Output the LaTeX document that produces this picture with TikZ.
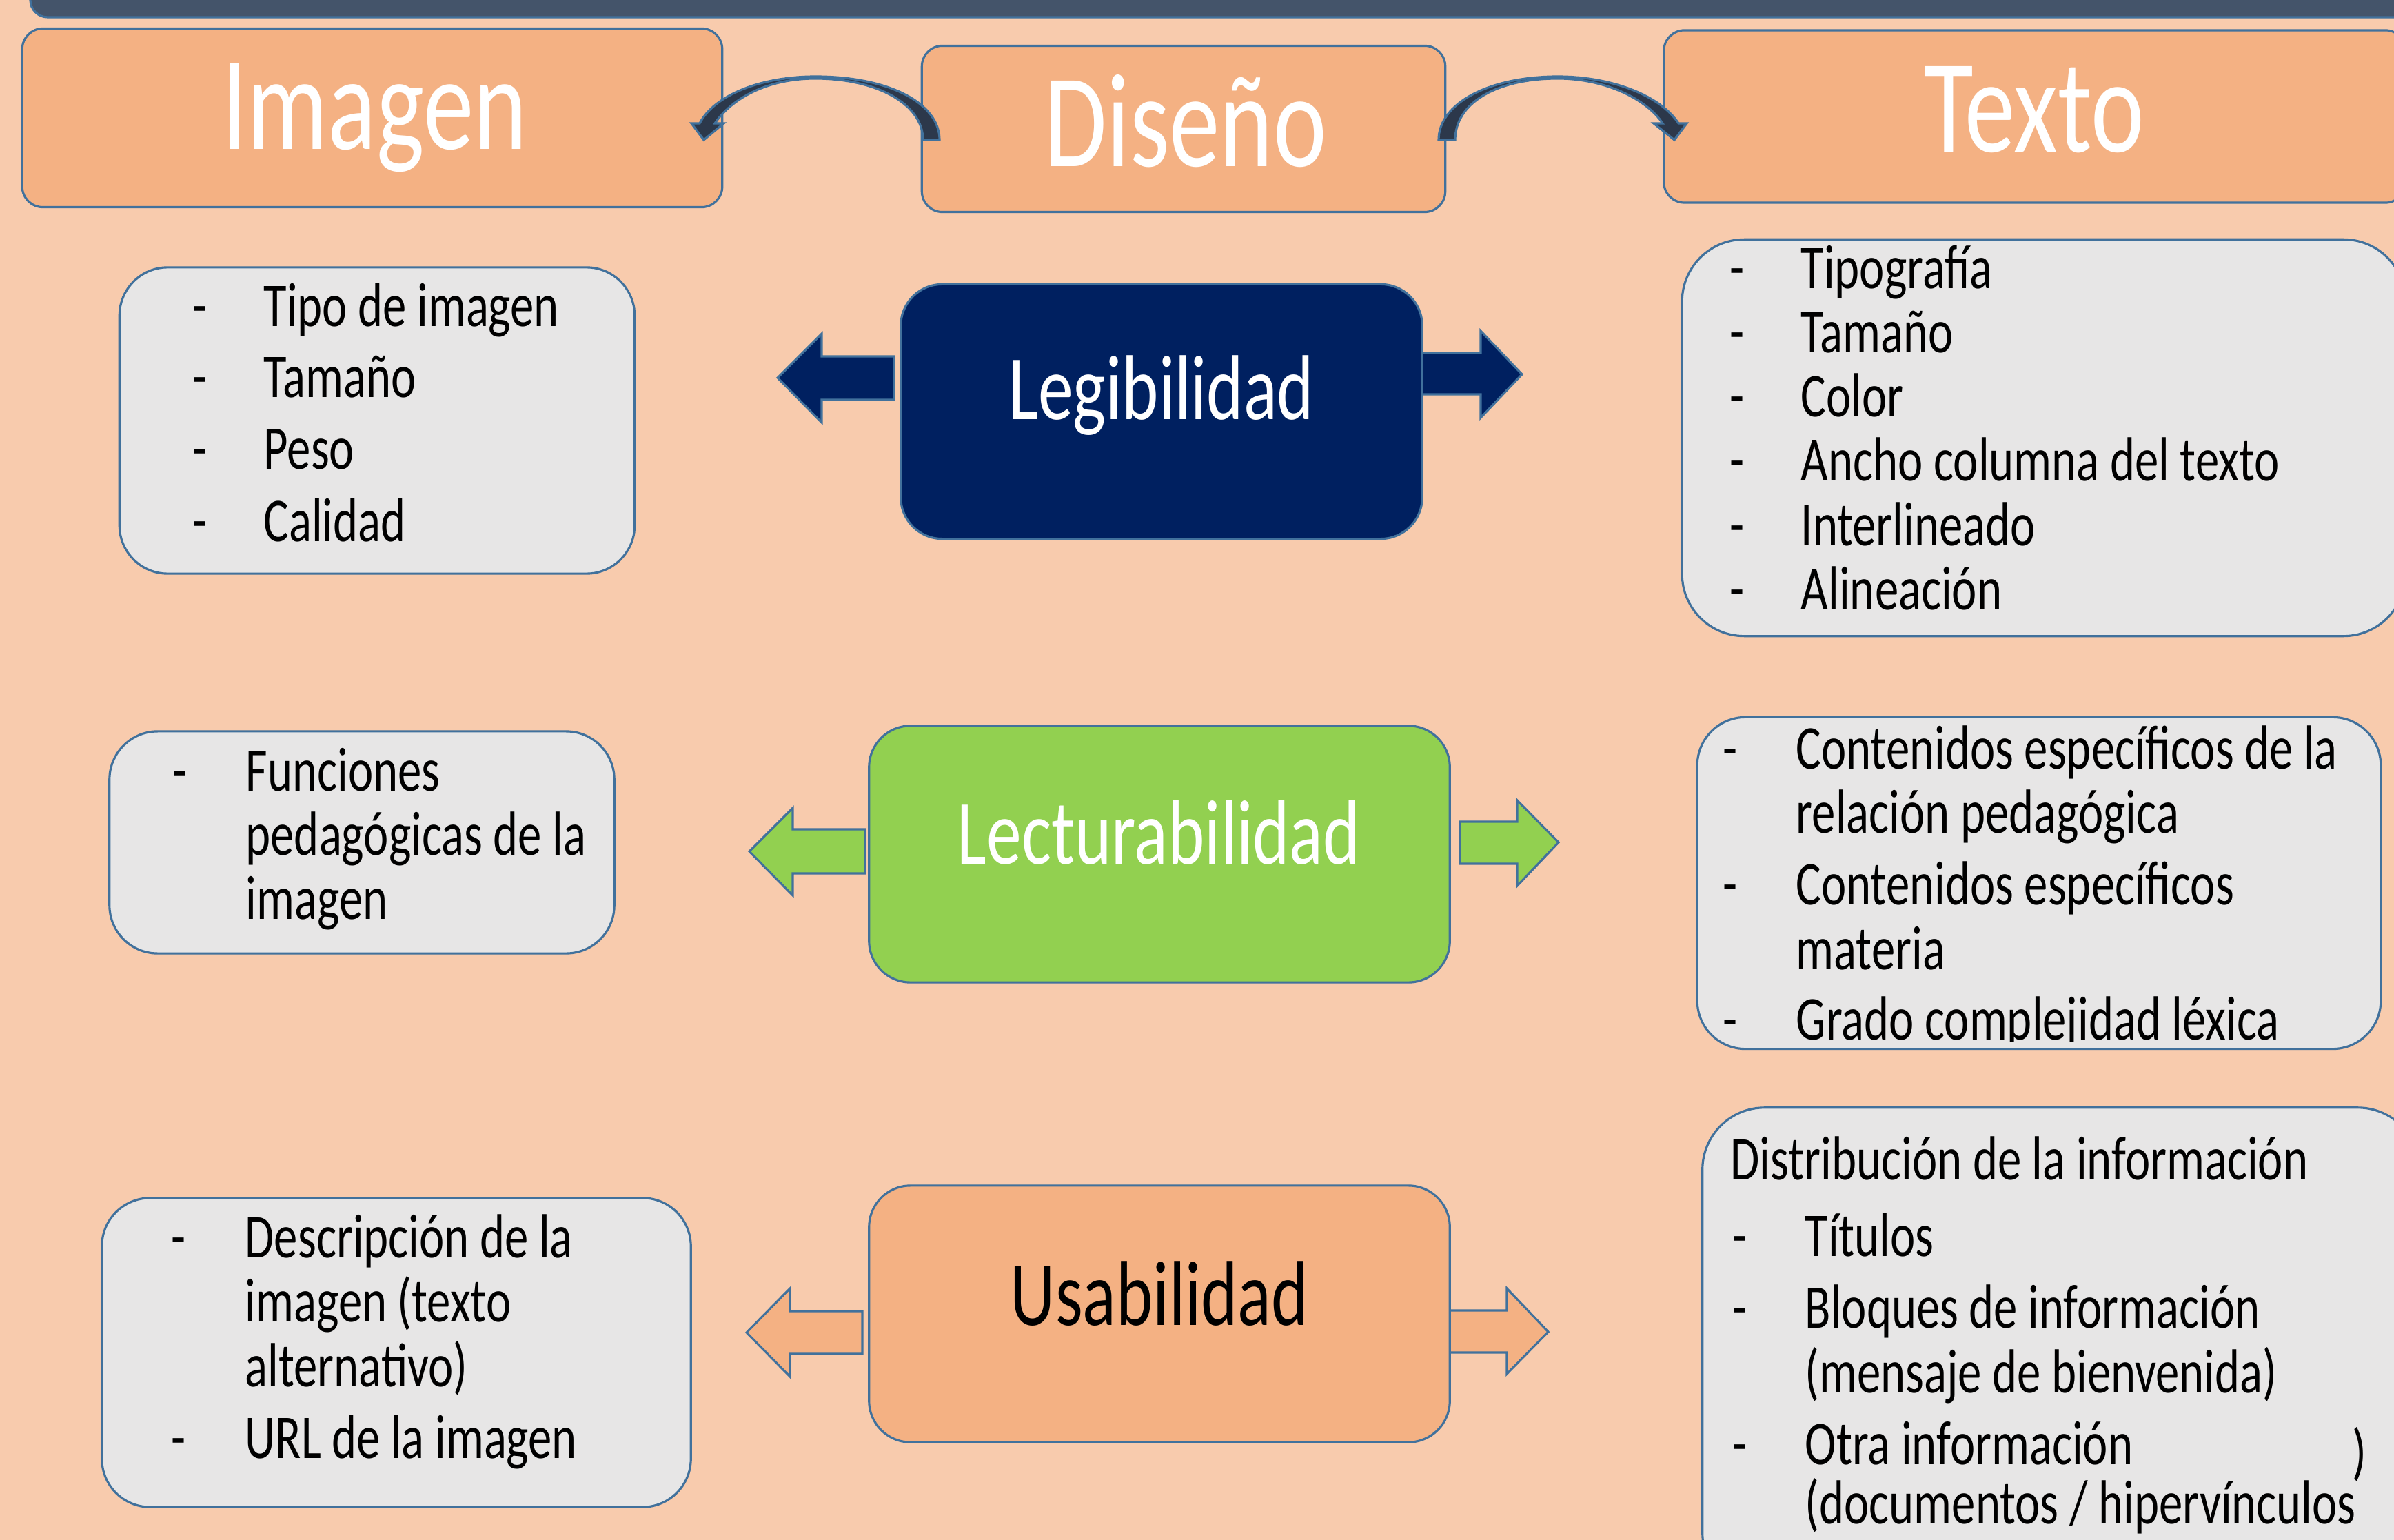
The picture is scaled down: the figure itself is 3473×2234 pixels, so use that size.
\documentclass[tikz,border=0pt]{standalone}
\usepackage{fontspec}
\setmainfont{Carlito}[FakeStretch=0.76]
\usepackage{xcolor}
\usepackage{tikz}
\usetikzlibrary{positioning}

\definecolor{bgpeach}{HTML}{F8CBAD}
\definecolor{boxpeach}{HTML}{F4B183}
\definecolor{boxgray}{HTML}{E7E6E6}
\definecolor{edgeblue}{HTML}{41719C}
\definecolor{legnavy}{HTML}{002060}
\definecolor{lecgreen}{HTML}{92D050}
\definecolor{barslate}{HTML}{44546A}
\definecolor{bendnavy}{HTML}{2C384B}

\tikzset{
    topbox/.style={draw=edgeblue, line width=0.9pt, fill=boxpeach, rounded corners=0.3cm, inner sep=0pt},
    hubbox/.style={draw=edgeblue, line width=0.9pt, rounded corners=0.6cm, inner sep=0pt,
                   minimum width=8.42cm, minimum height=3.72cm},
    listbox/.style={draw=edgeblue, line width=0.9pt, fill=boxgray, rounded corners=0.7cm, inner sep=0pt},
    blockarrow/.style={draw=edgeblue, line width=0.9pt},
    bendarrow/.style={draw=edgeblue, line width=0.9pt, fill=bendnavy},
    titletext/.style={anchor=base, inner sep=0pt, text=white, font=\fontsize{55}{60}\selectfont},
    hubtext/.style={anchor=base, inner sep=0pt, font=\fontsize{38}{44}\selectfont},
    itemtext/.style={anchor=base west, inner sep=0pt, font=\fontsize{25.7}{30}\selectfont}
}

\begin{document}
\begin{tikzpicture}[x=0.01cm, y=-0.01cm]
            \useasboundingbox (0,0) rectangle (3473,2234);
            \fill[bgpeach] (0,0) rectangle (3473,2234);
            \clip (0,0) rectangle (3473,2234);

            \draw[fill=barslate, draw=edgeblue, line width=0.9pt, rounded corners=0.25cm] (44,-60) rectangle (3540,25);

            \node[topbox, minimum width=10.15cm, minimum height=2.59cm] (imagen) at (540,171) {};
            \node[topbox, minimum width=7.59cm, minimum height=2.41cm] (diseno) at (1717,187) {};
            \node[topbox, minimum width=10.76cm, minimum height=2.50cm] (texto) at (2952,169) {};
            \node[titletext] (imagenT) at (543,217) {Imagen};
            \node[titletext] (disenoT) at (1720,242) {Diseño};
            \node[titletext] (textoT) at (2951,221) {Texto};

            \filldraw[blockarrow, fill=legnavy] (1297,517) -- (1192,517) -- (1192,484) -- (1128,548)
                -- (1192,613) -- (1192,580) -- (1297,580) -- cycle;
            \filldraw[blockarrow, fill=legnavy] (2063,512) -- (2148,512) -- (2148,480) -- (2208,543)
                -- (2148,606) -- (2148,572) -- (2063,572) -- cycle;
            \filldraw[blockarrow, fill=lecgreen] (1255,1203) -- (1150,1203) -- (1150,1172) -- (1087,1235)
                -- (1150,1299) -- (1150,1267) -- (1255,1267) -- cycle;
            \filldraw[blockarrow, fill=lecgreen] (2118,1192) -- (2201,1192) -- (2201,1161) -- (2261,1222)
                -- (2201,1285) -- (2201,1253) -- (2118,1253) -- cycle;
            \filldraw[blockarrow, fill=boxpeach] (1251,1902) -- (1146,1902) -- (1146,1869) -- (1083,1933)
                -- (1146,1997) -- (1146,1964) -- (1251,1964) -- cycle;
            \filldraw[blockarrow, fill=boxpeach] (2103,1901) -- (2186,1901) -- (2186,1869) -- (2246,1932)
                -- (2186,1993) -- (2186,1962) -- (2103,1962) -- cycle;

            \node[hubbox, fill=legnavy, minimum width=7.56cm, minimum height=3.69cm] (legi) at (1685,597) {};
            \node[hubbox, fill=lecgreen] (lectu) at (1682,1239) {};
            \node[hubbox, fill=boxpeach] (usa) at (1682,1906) {};
            \node[hubtext, text=white] (legiT) at (1685,609) {Legibilidad};
            \node[hubtext, text=white] (lectuT) at (1681,1253) {Lecturabilidad};
            \node[hubtext] (usaT) at (1682,1922) {Usabilidad};

            \node[listbox, minimum width=7.47cm, minimum height=4.44cm] (imgList) at (547,610) {};
            \node[itemtext] (imgD1) at (279,474) {-};
            \node[itemtext] (imgL1) at (382,474) {Tipo de imagen};
            \node[itemtext] (imgD2) at (279,577) {-};
            \node[itemtext] (imgL2) at (382,577) {Tamaño};
            \node[itemtext] (imgD3) at (279,681) {-};
            \node[itemtext] (imgL3) at (382,681) {Peso};
            \node[itemtext] (imgD4) at (279,785) {-};
            \node[itemtext] (imgL4) at (382,785) {Calidad};

            \node[listbox, minimum width=7.32cm, minimum height=3.22cm] (imgFun) at (525,1222) {};
            \node[itemtext] (funD1) at (250,1147) {-};
            \node[itemtext] (funL1) at (356,1147) {Funciones};
            \node[itemtext] (funL2) at (356,1240) {pedagógicas de la};
            \node[itemtext] (funL3) at (356,1333) {imagen};

            \node[listbox, minimum width=8.54cm, minimum height=4.48cm] (imgAlt) at (575,1962) {};
            \node[itemtext] (altD1) at (248,1824) {-};
            \node[itemtext] (altL1) at (355,1824) {Descripción de la};
            \node[itemtext] (altL2) at (355,1917) {imagen (texto};
            \node[itemtext] (altL3) at (355,2011) {alternativo)};
            \node[itemtext] (altD4) at (248,2115) {-};
            \node[itemtext] (altL4) at (355,2115) {URL de la imagen};

            \node[listbox, rounded corners=0.9cm, minimum width=10.49cm, minimum height=5.75cm] (txtList) at (2965,635) {};
            \node[itemtext] (txtD1) at (2509,419) {-};
            \node[itemtext] (txtL1) at (2612,419) {Tipografía};
            \node[itemtext] (txtD2) at (2509,512) {-};
            \node[itemtext] (txtL2) at (2612,512) {Tamaño};
            \node[itemtext] (txtD3) at (2509,605) {-};
            \node[itemtext] (txtL3) at (2612,605) {Color};
            \node[itemtext] (txtD4) at (2509,698) {-};
            \node[itemtext] (txtL4) at (2612,698) {Ancho columna del texto};
            \node[itemtext] (txtD5) at (2509,791) {-};
            \node[itemtext] (txtL5) at (2612,791) {Interlineado};
            \node[itemtext] (txtD6) at (2509,884) {-};
            \node[itemtext] (txtL6) at (2612,884) {Alineación};

            \node[listbox, minimum width=9.91cm, minimum height=4.81cm] (txtCont) at (2958,1281) {};
            \begin{scope}
                \clip (2440,1030) rectangle (3460,1511);
                \node[itemtext] (contD1) at (2499,1115) {-};
                \node[itemtext] (contL1) at (2605,1115) {Contenidos específicos de la};
                \node[itemtext] (contL2) at (2605,1208) {relación pedagógica};
                \node[itemtext] (contD3) at (2499,1312) {-};
                \node[itemtext] (contL3) at (2605,1312) {Contenidos específicos};
                \node[itemtext] (contL4) at (2605,1406) {materia};
                \node[itemtext] (contD5) at (2499,1508) {-};
                \node[itemtext] (contL5) at (2605,1508) {Grado complejidad léxica};
            \end{scope}

            \node[listbox, rounded corners=0.9cm, minimum width=10.4cm, minimum height=7.06cm] (txtDist) at (2990,1960) {};
            \node[itemtext] (distH) at (2510,1711) {Distribución de la información};
            \node[itemtext] (distD1) at (2513,1822) {-};
            \node[itemtext] (distL1) at (2618,1822) {Títulos};
            \node[itemtext] (distD2) at (2513,1926) {-};
            \node[itemtext] (distL2) at (2618,1926) {Bloques de información};
            \node[itemtext] (distL3) at (2618,2020) {(mensaje de bienvenida)};
            \node[itemtext] (distD4) at (2513,2124) {-};
            \node[itemtext] (distL4) at (2618,2124) {Otra información};
            \node[itemtext] (distL5) at (2618,2210) {(documentos / hipervínculos};
            \node[itemtext] (distP) at (3412,2136) {)};

            \filldraw[bendarrow] (1363,203) .. controls (1363,150) and (1290,111) .. (1183,111)
                .. controls (1100,111) and (1035,140) .. (1015,179) -- (1003,179) -- (1021,203)
                -- (1050,179) -- (1037,179) .. controls (1060,145) and (1110,114) .. (1183,114)
                .. controls (1270,114) and (1339,150) .. (1339,203) -- cycle;
            \filldraw[bendarrow] (2087,203) .. controls (2087,150) and (2160,111) .. (2260,111)
                .. controls (2340,111) and (2410,140) .. (2435,179) -- (2447,179) -- (2429,203)
                -- (2399,179) -- (2412,179) .. controls (2390,145) and (2330,114) .. (2260,114)
                .. controls (2170,114) and (2111,150) .. (2111,203) -- cycle;
\end{tikzpicture}
\end{document}
